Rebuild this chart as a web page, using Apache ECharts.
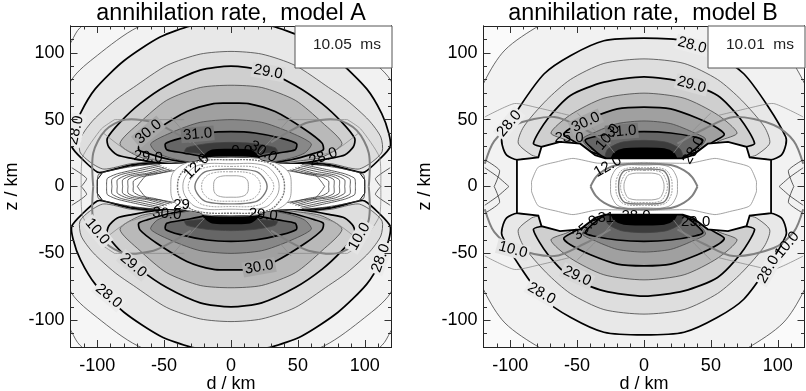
<!DOCTYPE html>
<html>
<head>
<meta charset="utf-8">
<style>
  html, body { margin: 0; padding: 0; background: #fff; }
  #main { width: 806px; height: 391px; }
</style>
<script src="https://cdn.jsdelivr.net/npm/echarts@6/dist/echarts.min.js"></script>
</head>
<body>
<div id="main"></div>
<script>
// tick values
const majorTicks = [-100, -50, 0, 50, 100];
const minorTicks = [-110, -90, -80, -70, -60, -40, -30, -20, -10, 10, 20, 30, 40, 60, 70, 80, 90, 110];

// model A contours, one quadrant each, [d, z] in km
const a270 = [[0,150],[80,145],[113,118.6],[119,109],[140,70],[150,0]];
const a275 = [[0,132],[40,128],[70,119],[100,98],[119,80],[133,45],[137,0]];
const a280 = [[0,124],[30,120],[53,111.7],[80,94],[101.5,73],[112.7,54.5],[118,39.6],[119,29.6],[110.5,19.8],[100,10.8],[95.5,10.8],[75,16],[58,17.5],[0,10]];
const a285 = [[0,101],[23,99],[48,90.5],[73,74],[86.6,64.5],[103,49.6],[112,37],[113,26],[105,18],[95,13],[75,17],[58,18],[0,12]];
const a290 = [[0,90],[23,87],[48,75.6],[68,62],[83,48],[92.5,36],[91.5,29.7],[85,23.5],[74,21],[57,18],[0,14]];
const a295 = [[0,75.7],[23,74],[48,64.5],[68,48],[83,32],[68,22],[50,19],[0,14]];
const a300 = [[0,62.3],[13,62],[33,56],[55.5,42.4],[68,32.5],[69,27.5],[63,25],[45,20],[0,14]];
const a305 = [[0,50],[23,48],[43,41],[60,32],[55,25],[40,20],[0,14]];
const a310 = [[0,41],[18,40],[38,36],[49,32],[48,27.5],[35,25],[20,22],[0,15]];
const a315 = [[0,33],[18,32],[33,29],[34.5,26],[18,24],[0,15]];
const a320 = [[0,27.5],[14,27],[20,23],[21,20],[0,15]];
const aHole = [[0,22],[20,21.5],[24,19.5],[36.5,17.5],[58,17],[75,15.5],[96,10.5],[100,5],[100,0]];
const aWiggles = [
  [[100,0],[99,9],[85,13],[70,15.5],[55,17]],
  [[93,0],[92.5,6],[85,9.5],[70,13],[53,16.5]],
  [[89,0],[89,5.5],[82,9],[68,12],[52,15.5]],
  [[85,0],[85,5],[78,8.5],[65,11],[50,14.5]],
  [[81,0],[81,5],[75,8],[62,10],[48,14]],
  [[77,0],[77,5],[72,7.5],[60,9.5],[46,13]],
  [[73,0],[73,4],[68,7],[57,9],[44,12.5]],
  [[70,0],[68,3],[63,8.6],[53,10],[42,12]],
  [[119,14],[108,6],[112,0]]
];
const aRings = [
  [[0,8],[8,7.5],[12,5],[13,0]],
  [[0,11],[14,10],[20,6],[22,0]],
  [[0,13],[18,11.5],[24,7],[27,0]],
  [[0,15],[20,14],[28,8],[32,0]],
  [[0,17],[24,16],[33,9],[36,0]],
  [[0,20],[27,18],[37,10],[40,0]],
  [[0,22],[25,20],[42,12],[45,0]]
];
const aOverThick = [[103,0],[103,25],[94,42],[79,50],[58,48],[45,42],[30,33]];
const aOverThin = [
  [[112,0],[111,22],[97,43],[87,50]],
  [[87,50],[35,50]],
  [[45,52],[30,35],[20,24]],
  [[95.5,40],[78,27],[55,20]]
];

// model B contours
const b275 = [[0,137],[60,128],[78,120.5],[104,102],[119,79],[135,40],[140,0]];
const b280 = [[0,111],[30,109],[54.7,98],[74.6,84.3],[93,59.5],[106,37],[106,31],[102.7,23.5],[95,20],[79,21],[0,15]];
const b285 = [[0,95.4],[30,92],[55,80],[73,64.5],[90,44.6],[94,32.4],[84,23.5],[78,22],[0,15]];
const b290 = [[0,82],[30,78],[55,68],[72,50.7],[82.7,32.2],[76,29.6],[62,25],[0,15]];
const b295 = [[0,69.8],[30,66],[55,53.6],[69.6,40],[57,34.4],[45,28],[0,15]];
const b300 = [[0,59.3],[20,58],[40,51],[55,43.6],[60,38.7],[51,33],[45,28],[0,15]];
const b305 = [[0,49],[20,47],[38,40],[46,35.5],[40,28],[0,15]];
const b310 = [[0,41],[20,40],[38,37],[44,34.6],[40,29.6],[30,22],[0,15]];
const b315 = [[0,34.5],[17,33],[27,28],[28.6,22],[0,15]];
const b320 = [[0,28.5],[15,28],[22,25],[24,20],[0,15]];
const bHole = [[0,21],[29,21],[36.5,23.5],[47.7,32],[62.8,33.4],[76.6,29.7],[79,21.8],[95,20],[95,0]];
const bWiggles = [
  [[101,0],[109,7],[119,14]],
  [[112,0],[108,12],[119,20]]
];
const bRings = [
  [[0,10],[11,9],[14,5],[15,0]],
  [[0,12],[12,11],[16,6],[17.5,0]],
  [[0,13],[14,12],[18,7],[19,0]],
  [[0,14],[15,13],[20,7],[21,0]],
  [[0,16],[18,15],[24,8],[25,0]]
];
const bOverThick = [[[40,0],[36,7],[30,12],[20,16],[0,17]], [[119,17],[112,34],[97,46],[67,52],[45,43],[25,32]]];
const bOverThin = [
  [[0,18],[18,17.5],[35,17.5],[53,21],[65,18.5],[79,14.5],[84,4],[84,0]],
  [[119,52],[97,62],[80,59],[55,53]],
  [[50,55],[30,35],[22,25]]
];

// contour labels [d, z, text]
const aLabels = [
  [-116,42,'28.0'],[27.7,85.6,'29.0'],[-61.7,40.8,'30.0'],[-25,39,'31.0'],[-62,22,'29.0'],
  [8,27,'0.0'],[24,26,'30.0'],[69,22,'28.0'],[-25.6,15,'12.0'],
  [-100,-33.7,'10.0'],[-73,-59,'29.0'],[-91.5,-82,'28.0'],[21,-60.3,'30.0'],[96,-37.4,'10.0'],
  [112,-53.6,'28.0'],[-48,-20.5,'30.0'],[24,-21.3,'29.0'],[-37,-13.8,'29']
];
const aLabelTilt = [78,-10,40,5,-5,0,-30,20,45,-50,-40,-40,10,60,70,-5,-5,0];
const aLabelBack = ['#ececec','#d8d8d8','#a8a8a8','#777777',null,null,null,null,null,'#e4e4e4','#d8d8d8','#ececec','#a8a8a8','#e4e4e4','#ececec',null,null,null];
const bLabels = [
  [36,105.5,'28.0'],[35.6,76,'29.0'],[-100.7,47,'28.0'],[-43.5,48,'30.0'],[-16.6,41,'31.0'],
  [-56,36,'25.0'],[-27,37,'10.0'],[37,27,'28.0'],[-27,15,'12.0'],
  [-98,-47.4,'10.0'],[-50,-67,'29.0'],[-76.6,-80,'28.0'],[93,-62,'28.0'],[107,-43.6,'10.0'],
  [38.6,-26.7,'29.0'],[-43.5,-31,'35.0'],[-28.6,-23.7,'31'],[-6,-22,'28.0']
];
const bLabelTilt = [-15,-15,50,25,5,0,50,60,30,-15,-25,-30,60,50,0,40,0,0];
const bLabelBack = ['#ececec','#d8d8d8','#ececec','#a8a8a8','#777777',null,null,null,null,'#e4e4e4','#d8d8d8','#ececec','#ececec',null,null,null,null,null];

const fontName = '"Liberation Sans", Arial, sans-serif';
const thick = { stroke: '#000', lineWidth: 1.7 };
const thin = { stroke: '#444', lineWidth: 0.8 };

// whole closed curve out of one quadrant (top -> right)
function loop(q) {
  let pts = [];
  q.forEach(p => pts.push([p[0], p[1]]));
  q.slice(0, -1).reverse().forEach(p => pts.push([p[0], -p[1]]));
  q.slice(1).forEach(p => pts.push([-p[0], -p[1]]));
  q.slice(1, -1).reverse().forEach(p => pts.push([-p[0], p[1]]));
  return pts;
}
// upper and lower lobes, closed on d = 0
function lobes(q) {
  let upper = q.concat(q.slice(1, -1).reverse().map(p => [-p[0], p[1]]));
  return [upper, upper.map(p => [p[0], -p[1]])];
}
function four(line) {
  return [
    line,
    line.map(p => [-p[0], p[1]]),
    line.map(p => [p[0], -p[1]]),
    line.map(p => [-p[0], -p[1]])
  ];
}

function shapesOf(cfg) {
  let out = [];
  cfg.outer.forEach(o => out.push({ type: 'polygon', pts: loop(o.q), fill: o.fill, stroke: '#444', lineWidth: 0.8, smooth: 0.3 }));
  cfg.bands.forEach(b => {
    lobes(b.q).forEach(pts => {
      out.push({ type: 'polygon', pts: pts, fill: b.fill, stroke: b.s.stroke, lineWidth: b.s.lineWidth, smooth: 0.25 });
    });
  });
  out.push({ type: 'polygon', pts: loop(cfg.hole), fill: '#fff', stroke: '#000', lineWidth: cfg.holeWidth, smooth: 0 });
  cfg.wiggles.forEach(w => four(w).forEach(pts => out.push({ type: 'polyline', pts: pts, stroke: '#333', lineWidth: 0.8, smooth: 0.2 })));
  cfg.rings.forEach((r, i) => {
    out.push({ type: 'polygon', pts: loop(r), fill: 'none', stroke: i % 3 === 2 ? '#777' : '#999', lineWidth: i % 3 === 2 ? 1.4 : 0.9, smooth: 0.4, dash: i % 2 ? [2, 1] : null });
  });
  cfg.overThick.forEach(l => four(l).forEach(pts => out.push({ type: 'polyline', pts: pts, stroke: '#808080', lineWidth: 2, smooth: 0.3 })));
  cfg.overThin.forEach(l => four(l).forEach(pts => out.push({ type: 'polyline', pts: pts, stroke: '#8c8c8c', lineWidth: 0.8, smooth: 0.2 })));
  return out;
}

function contourSeries(idx, cfg) {
  let shapes = shapesOf(cfg);
  return {
    type: 'custom',
    xAxisIndex: idx * 4,
    yAxisIndex: idx * 4,
    clip: true,
    animation: false,
    silent: true,
    encode: { x: 0, y: 1 },
    data: shapes.map(s => s.pts[0]),
    renderItem: function (params, api) {
      let s = shapes[params.dataIndex];
      return {
        type: s.type,
        shape: { points: s.pts.map(p => api.coord(p)), smooth: s.smooth },
        style: { fill: s.fill || 'none', stroke: s.stroke, lineWidth: s.lineWidth, lineDash: s.dash || null }
      };
    }
  };
}

function labelSeries(idx, labels, tilt, back) {
  return {
    type: 'custom',
    xAxisIndex: idx * 4,
    yAxisIndex: idx * 4,
    clip: true,
    animation: false,
    silent: true,
    z: 5,
    encode: { x: 0, y: 1 },
    data: labels.map(l => [l[0], l[1]]),
    renderItem: function (params, api) {
      let c = api.coord([api.value(0), api.value(1)]);
      let bg = back[params.dataIndex];
      return {
        type: 'text',
        x: c[0],
        y: c[1],
        rotation: tilt[params.dataIndex] * Math.PI / 180,
        style: {
          text: labels[params.dataIndex][2],
          fill: '#000',
          font: '15px ' + fontName,
          align: 'center',
          verticalAlign: 'middle',
          backgroundColor: bg || 'transparent',
          padding: bg ? [0, 2] : 0
        }
      };
    }
  };
}

function axisSet(gridIndex, dim, name) {
  let sides = dim === 'x' ? ['bottom', 'top'] : ['left', 'right'];
  let out = [];
  sides.forEach((side, s) => {
    [majorTicks, minorTicks].forEach((ticks, m) => {
      let showLabel = s === 0 && m === 0;
      out.push({
        type: 'value',
        gridIndex: gridIndex,
        position: side,
        min: -120,
        max: 120,
        z: 10,
        silent: true,
        name: showLabel ? name : '',
        nameLocation: 'middle',
        nameMoveOverlap: false,
        nameGap: dim === 'x' ? 28 : 49,
        nameTextStyle: { fontFamily: fontName, fontSize: 18, color: '#000' },
        splitLine: { show: false },
        axisLine: { show: true, onZero: false, lineStyle: { color: '#222', width: 1 } },
        axisTick: { show: true, inside: true, length: m === 0 ? 7 : 3.5, customValues: ticks, lineStyle: { color: '#333', width: 1 } },
        axisLabel: { show: showLabel, customValues: ticks, margin: dim === 'x' ? 10 : 6, fontFamily: fontName, fontSize: 18, color: '#000' }
      });
    });
  });
  return out;
}

const modelA = {
  outer: [{ q: a270, fill: '#f6f6f6' }, { q: a275, fill: '#f2f2f2' }],
  bands: [
    { q: a280, fill: '#e8e8e8', s: thick }, { q: a285, fill: '#dedede', s: thin },
    { q: a290, fill: '#cfcfcf', s: thick }, { q: a295, fill: '#b9b9b9', s: thin },
    { q: a300, fill: '#a0a0a0', s: thick }, { q: a305, fill: '#888888', s: thin },
    { q: a310, fill: '#666666', s: thick }, { q: a315, fill: '#3c3c3c', s: thin },
    { q: a320, fill: '#000000', s: thick }
  ],
  hole: aHole, holeWidth: 1,
  wiggles: aWiggles, rings: aRings,
  overThick: [aOverThick], overThin: aOverThin
};
const modelB = {
  outer: [{ q: b275, fill: '#f2f2f2' }],
  bands: [
    { q: b280, fill: '#e8e8e8', s: thick }, { q: b285, fill: '#dedede', s: thin },
    { q: b290, fill: '#cfcfcf', s: thick }, { q: b295, fill: '#b9b9b9', s: thin },
    { q: b300, fill: '#a0a0a0', s: thick }, { q: b305, fill: '#888888', s: thin },
    { q: b310, fill: '#666666', s: thick }, { q: b315, fill: '#3c3c3c', s: thin },
    { q: b320, fill: '#000000', s: thick }
  ],
  hole: bHole, holeWidth: 1.8,
  wiggles: bWiggles, rings: bRings,
  overThick: bOverThick, overThin: bOverThin
};

function stamp(left, text) {
  return [
    { type: 'rect', z: 100, silent: true, shape: { x: left, y: 26, width: 97, height: 42 }, style: { fill: '#fff', stroke: '#555', lineWidth: 1 } },
    { type: 'text', z: 101, silent: true, x: left + 52, y: 45, style: { text: text, fill: '#222', font: '15.5px ' + fontName, align: 'center', verticalAlign: 'middle' } }
  ];
}

const chart = echarts.init(document.getElementById('main'), null, { renderer: 'canvas' });
chart.setOption({
  backgroundColor: '#fff',
  animation: false,
  title: [
    { text: 'annihilation rate,  model A', left: 226, top: -3, textAlign: 'center', textStyle: { fontFamily: fontName, fontWeight: 'normal', fontSize: 23.3, color: '#000' } },
    { text: 'annihilation rate,  model B', left: 638, top: -3, textAlign: 'center', textStyle: { fontFamily: fontName, fontWeight: 'normal', fontSize: 23.3, color: '#000' } }
  ],
  grid: [
    { left: 70.5, top: 26, width: 321, height: 321, show: true, backgroundColor: '#fafafa', borderWidth: 0, outerBoundsMode: 'none' },
    { left: 483.5, top: 26, width: 321, height: 321, show: true, backgroundColor: '#fafafa', borderWidth: 0, outerBoundsMode: 'none' }
  ],
  xAxis: axisSet(0, 'x', 'd / km').concat(axisSet(1, 'x', 'd / km')),
  yAxis: axisSet(0, 'y', 'z / km').concat(axisSet(1, 'y', 'z / km')),
  series: [
    contourSeries(0, modelA),
    contourSeries(1, modelB),
    labelSeries(0, aLabels, aLabelTilt, aLabelBack),
    labelSeries(1, bLabels, bLabelTilt, bLabelBack)
  ],
  graphic: stamp(295, '10.05  ms').concat(stamp(708, '10.01  ms'))
});
</script>
</body>
</html>
